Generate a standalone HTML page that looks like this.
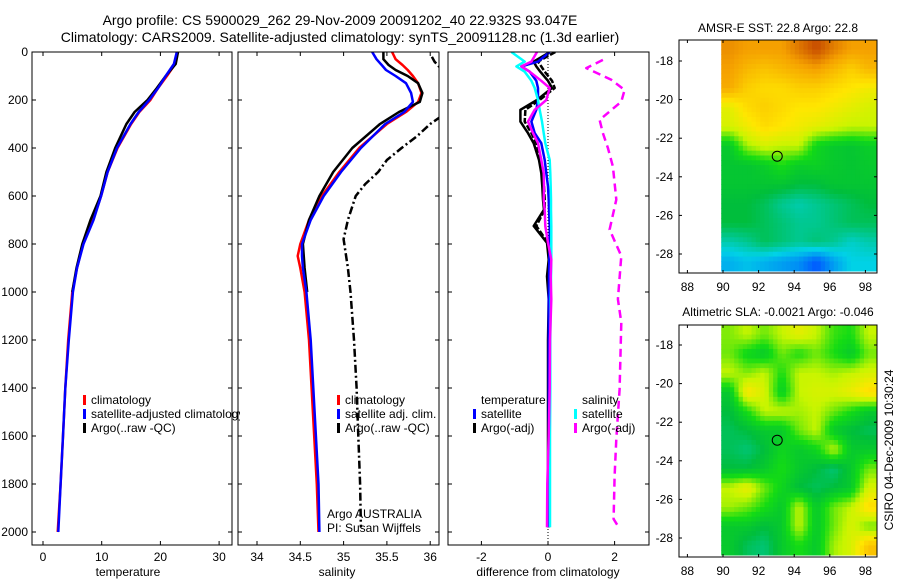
<!DOCTYPE html>
<html><head><meta charset="utf-8"><style>
html,body{margin:0;padding:0;background:#fff;}
svg{display:block;font-family:"Liberation Sans",sans-serif;}
text{font-size:12px;fill:#000;}
</style></head><body>
<svg id="chart" width="900" height="580" viewBox="0 0 900 580" xmlns="http://www.w3.org/2000/svg">
<text x="340" y="25" text-anchor="middle" style="font-size:14px">Argo profile: CS 5900029_262 29-Nov-2009 20091202_40 22.932S 93.047E</text>
<text x="340" y="42" text-anchor="middle" style="font-size:14px">Climatology: CARS2009. Satellite-adjusted climatology: synTS_20091128.nc (1.3d earlier)</text>
<text x="778" y="32" text-anchor="middle">AMSR-E SST: 22.8 Argo: 22.8</text>
<text x="778" y="316" text-anchor="middle">Altimetric SLA: -0.0021  Argo: -0.046</text>
<text transform="translate(893,450) rotate(-90)" text-anchor="middle">CSIRO 04-Dec-2009 10:30:24</text>
<g id="layer"></g>
</svg>
<script>
// ---- data ----
const tempDepth = [0,50,100,150,200,250,300,400,500,600,700,800,900,1000,1200,1400,1600,1800,2000];
const tempClim  = [22.9,22.5,21.1,19.6,18.3,16.4,15.0,12.7,11.0,9.9,8.5,6.8,5.8,5.0,4.3,3.8,3.4,3.0,2.5];
const tempSat   = [22.8,22.3,20.9,19.6,18.1,16.3,14.9,12.6,11.0,9.9,8.6,6.9,5.8,5.1,4.4,3.8,3.4,3.0,2.6];
const tempArgoDepth = [0,50,100,150,200,250,300,400,500,600,700,800,900,1000];
const tempArgo  = [23.0,22.6,20.9,19.4,17.8,15.6,14.2,12.3,10.8,9.8,8.1,6.7,5.7,5.0];

const salDepth = [0,30,54,75,100,130,171,208,250,300,400,500,600,700,800,850,900,1000,1200,1400,1600,1800,2000];
const salClim  = [35.56,35.6,35.68,35.74,35.8,35.86,35.9,35.86,35.72,35.5,35.18,34.95,34.75,34.6,34.5,34.47,34.5,34.55,34.6,34.63,34.66,34.69,34.71];
const salSat   = [35.33,35.38,35.44,35.49,35.6,35.72,35.78,35.8,35.7,35.48,35.2,34.97,34.77,34.62,34.52,34.52,34.53,34.57,34.62,34.65,34.68,34.71,34.72];
const salArgoDepth = [0,30,54,75,100,130,171,208,250,300,400,500,600,700,800,900,1000];
const salArgo  = [35.46,35.46,35.52,35.6,35.74,35.86,35.91,35.88,35.64,35.42,35.1,34.88,34.72,34.6,34.53,34.55,34.58];
const salRawDepth = [20,40,60,80,270,300,350,400,450,500,550,600,700,780,900,1000,1200,1400,1600,1800,1980];
const salRaw   = [36.02,36.05,36.1,36.15,36.12,36.0,35.85,35.67,35.5,35.4,35.25,35.14,35.05,35.0,35.05,35.08,35.12,35.15,35.17,35.19,35.2];

const diffDepth = [0,40,60,82,120,150,200,241,290,338,380,450,505,560,615,657,725,795,865,935,1030,1200,1400,1600,1800,1980];
const diffTempSat = [0.05,-0.3,-0.8,-0.55,-0.35,-0.3,-0.3,-0.35,-0.5,-0.4,-0.2,-0.1,-0.05,0,0.02,0.03,0.05,0.05,0.04,0.03,0.02,0.02,0.02,0.02,0.02,0.02];
const diffSalSat  = [-1.1,-0.7,-0.95,-0.7,-0.5,-0.4,-0.3,-0.25,-0.18,-0.13,-0.08,0.05,0.07,0.08,0.09,0.09,0.1,0.1,0.1,0.09,0.08,0.07,0.07,0.06,0.06,0.06];
const diffSalArgo = [-0.33,-0.5,-0.8,-0.55,-0.2,0.05,-0.05,-0.4,-0.6,-0.45,-0.3,-0.2,-0.13,-0.12,-0.13,-0.1,-0.08,0.0,0.1,0.08,0.1,0.06,0.05,0.02,-0.02,-0.03];
const diffTempArgo = [0.06,-0.43,-0.35,-0.23,0.0,0.12,-0.33,-0.83,-0.83,-0.6,-0.43,-0.27,-0.2,-0.17,-0.15,-0.12,-0.43,-0.03,0.02,-0.03,0.02,0.0,0.0,0.0,0.0,0.0];
const diffTempArgoB = [0.22,-0.3,-0.2,-0.1,0.12,0.2,-0.25,-0.68,-0.7,-0.5,-0.35,-0.2,-0.15,-0.12,-0.1,-0.1,-0.35,0.0,0.05,0.0,0.04,0.02,0.02,0.04,0.02,0.03];
const diffSalRawDepth = [33,67,116,158,207,283,338,400,477,615,740,850,1030,1127,1405,1613,1767,1946,1975];
const diffSalRaw = [1.65,1.15,1.9,2.3,2.2,1.55,1.65,1.8,1.95,2.05,1.85,2.2,2.1,2.2,2.15,2.05,2.0,1.97,2.1];

const depthTicks = [0,200,400,600,800,1000,1200,1400,1600,1800,2000];
const tempTicks = [0,10,20,30];
const salTicks = [34,34.5,35,35.5,36];
const diffTicks = [-2,0,2];
const lonTicks = [88,90,92,94,96,98];
const latTicks = [-18,-20,-22,-24,-26,-28];

// map grids: rows from lat -17 (top) to -29, 9 cols lon 89.9..98.5 (colormap index 0..1)
const sstGrid = [
[.82,.80,.80,.80,.85,.90,.84,.80,.80],
[.80,.76,.74,.76,.78,.80,.76,.72,.76],
[.78,.72,.70,.70,.72,.72,.70,.68,.66],
[.64,.70,.72,.70,.68,.68,.66,.64,.62],
[.62,.66,.70,.68,.66,.64,.62,.60,.60],
[.45,.58,.62,.60,.60,.48,.45,.44,.46],
[.44,.44,.46,.50,.46,.47,.45,.44,.45],
[.44,.44,.44,.44,.42,.42,.44,.44,.44],
[.42,.42,.40,.36,.34,.36,.38,.40,.42],
[.42,.42,.40,.38,.36,.36,.38,.40,.40],
[.34,.36,.40,.38,.36,.38,.36,.32,.34],
[.26,.28,.26,.24,.22,.16,.24,.30,.30]];
const slaGrid = [
[.56,.60,.55,.60,.64,.60,.52,.50,.60],
[.55,.48,.45,.55,.50,.55,.50,.45,.55],
[.60,.56,.60,.50,.60,.60,.58,.60,.62],
[.45,.68,.62,.46,.60,.62,.62,.65,.70],
[.42,.50,.60,.60,.58,.60,.55,.50,.45],
[.40,.42,.45,.45,.55,.60,.45,.42,.40],
[.40,.38,.42,.48,.45,.48,.60,.45,.45],
[.42,.42,.45,.50,.45,.42,.38,.45,.55],
[.60,.65,.55,.48,.42,.40,.42,.45,.62],
[.58,.55,.50,.45,.60,.45,.55,.60,.70],
[.45,.45,.42,.45,.60,.45,.55,.62,.55],
[.45,.40,.38,.45,.50,.45,.58,.62,.74]];

// ---- drawing ----
const NS='http://www.w3.org/2000/svg';
const layer=document.getElementById('layer');
function mk(tag,attrs,parent){const e=document.createElementNS(NS,tag);for(const k in attrs)e.setAttribute(k,attrs[k]);(parent||layer).appendChild(e);return e;}
const Y=d=>52+d*0.24;
const panels=[
 {x0:32,x1:232,sx:v=>43+v*5.87,ticks:tempTicks,label:'temperature',lx:128,name:'temperature-panel'},
 {x0:238,x1:439,sx:v=>257+(v-34)*86.6,ticks:salTicks,label:'salinity',lx:337,name:'salinity-panel'},
 {x0:448,x1:649,sx:v=>548+v*33.3,ticks:diffTicks,label:'difference from climatology',lx:548,name:'difference-panel'}];
panels.forEach((p,i)=>{
 const g=mk('g',{});
 
 
 const cp=mk('clipPath',{id:'cp'+i},g);mk('rect',{x:p.x0,y:52,width:p.x1-p.x0,height:493},cp);
 p.g=mk('g',{'clip-path':'url(#cp'+i+')'},g);
 const fr=mk('rect',{x:p.x0,y:52,width:p.x1-p.x0,height:493,fill:'none',stroke:'#000','stroke-width':1},g);
 
 
 p.ticks.forEach(t=>{const x=p.sx(t);
  mk('line',{x1:x,x2:x,y1:545,y2:541,stroke:'#000'},g);mk('line',{x1:x,x2:x,y1:52,y2:56,stroke:'#000'},g);
  const tx=mk('text',{x:x,y:561,'text-anchor':'middle'},g);tx.textContent=String(t);
  
  });
 depthTicks.forEach(d=>{const y=Y(d);mk('line',{x1:p.x0,x2:p.x0+4,y1:y,y2:y,stroke:'#000'},g);mk('line',{x1:p.x1,x2:p.x1-4,y1:y,y2:y,stroke:'#000'},g);
  if(i===0){const tx=mk('text',{x:28,y:y+4,'text-anchor':'end'},g);tx.textContent=String(d);
  
  }});
 const xl=mk('text',{x:p.lx,y:576,'text-anchor':'middle'},g);xl.textContent=p.label;
 
 
});
function line(p,xs,ds,color,w,dash,name){
 const pts=xs.map((v,k)=>p.sx(v).toFixed(1)+','+Y(ds[k]).toFixed(1)).join(' ');
 const e=mk('polyline',{points:pts,fill:'none',stroke:color,'stroke-width':w,'stroke-dasharray':dash||'none','stroke-linejoin':'round'},p.g);
 
 
}
const P=panels;
line(P[0],tempClim,tempDepth,'#f00',2.5,null,'temp-climatology-line');
line(P[0],tempArgo,tempArgoDepth,'#000',2.5,null,'temp-argo-line');
line(P[0],tempSat,tempDepth,'#00f',2.5,null,'temp-satellite-line');
line(P[1],salRaw,salRawDepth,'#000',2.5,'8,3,2,3','salinity-argo-raw-line');
line(P[1],salClim,salDepth,'#f00',2.5,null,'salinity-climatology-line');
line(P[1],salArgo,salArgoDepth,'#000',2.5,null,'salinity-argo-line');
line(P[1],salSat,salDepth,'#00f',2.5,null,'salinity-satellite-line');
mk('line',{x1:P[2].sx(0),x2:P[2].sx(0),y1:52,y2:545,stroke:'#000','stroke-dasharray':'1,2'},P[2].g);
line(P[2],diffSalRaw,diffSalRawDepth,'#f0f',2.5,'8,5','diff-salinity-argo-raw-line');
line(P[2],diffTempArgoB,diffDepth,'#000',2.5,'6,2','diff-temp-argo-adj-line');
line(P[2],diffTempArgo,diffDepth,'#000',2.5,null,'diff-temp-argo-line');
line(P[2],diffTempSat,diffDepth,'#00f',2.5,null,'diff-temp-satellite-line');
line(P[2],diffSalSat,diffDepth,'#0ff',2.5,null,'diff-salinity-satellite-line');
line(P[2],diffSalArgo,diffDepth,'#f0f',2.5,null,'diff-salinity-argo-line');

function legend(x,y,items,name){
 const g=mk('g',{});
 
 
 items.forEach((it,k)=>{const yy=y+k*14;
  if(it[0])mk('rect',{x:x,y:yy-9,width:3,height:10,fill:it[0]},g);
  const t=mk('text',{x:x+8,y:yy},g);t.textContent=it[1];
  
  });
 return g;
}
const cpL=mk('clipPath',{id:'cpl'});mk('rect',{x:32,y:52,width:208,height:493},cpL);
legend(83,404,[['#f00','climatology'],['#00f','satellite-adjusted climatology'],['#000','Argo(..raw -QC)']],'temperature-legend').setAttribute('clip-path','url(#cpl)');
legend(337,404,[['#f00','climatology'],['#00f','satellite adj. clim.'],['#000','Argo(..raw -QC)']],'salinity-legend');
const pi=mk('g',{});


mk('text',{x:327,y:518},pi).textContent='Argo AUSTRALIA';
mk('text',{x:327,y:532},pi).textContent='PI: Susan Wijffels';
legend(473,404,[[null,'temperature'],['#00f','satellite'],['#000','Argo(-adj)']],'diff-temperature-legend');
legend(574,404,[[null,'salinity'],['#0ff','satellite'],['#f0f','Argo(-adj)']],'diff-salinity-legend');

// colormap
const cmap=[[0,[0,0,200]],[0.16,[0,90,255]],[0.3,[0,210,230]],[0.42,[0,190,60]],[0.5,[20,220,20]],[0.6,[200,245,0]],[0.68,[255,230,0]],[0.8,[245,160,0]],[0.92,[190,60,0]],[1,[140,0,0]]];
function col(v){for(let i=1;i<cmap.length;i++){if(v<=cmap[i][0]){const a=cmap[i-1],b=cmap[i],t=(v-a[0])/(b[0]-a[0]);return 'rgb('+a[1].map((c,j)=>Math.round(c+(b[1][j]-c)*t)).join(',')+')';}}return 'rgb(140,0,0)';}
function sample(grid,fy,fx){ // bilinear on cell centers
 const R=grid.length,C=grid[0].length;
 let y=Math.max(0,Math.min(R-1,fy-0.5)),x=Math.max(0,Math.min(C-1,fx-0.5));
 const y0=Math.floor(y),x0=Math.floor(x),y1=Math.min(R-1,y0+1),x1=Math.min(C-1,x0+1),ty=y-y0,tx=x-x0;
 return (grid[y0][x0]*(1-tx)+grid[y0][x1]*tx)*(1-ty)+(grid[y1][x0]*(1-tx)+grid[y1][x1]*tx)*ty;
}
function map(top,bottom,grid,name,lat0y){
 const left=679,right=877;
 const lx=lon=>723+(lon-90)*17.8;
 const ly=lat=>lat0y+(-18-lat)*19.3;
 const g=mk('g',{});
 
 
 const rows=grid.length,cols=grid[0].length,S=4;
 const gx0=lx(89.9),gx1=right,gy0=top,gy1=bottom-2;
 const cw=(gx1-gx0)/(cols*S),ch=(gy1-gy0)/(rows*S);
 for(let i=0;i<rows*S;i++)for(let j=0;j<cols*S;j++){
  const v=sample(grid,(i+0.5)/S,(j+0.5)/S);
  const c=mk('rect',{x:(gx0+j*cw).toFixed(2),y:(gy0+i*ch).toFixed(2),width:(cw+0.5).toFixed(2),height:(ch+0.5).toFixed(2),fill:col(v)},g);
  
  
 }
 const fr=mk('rect',{x:left,y:top,width:right-left,height:bottom-top,fill:'none',stroke:'#000'},g);
 
 
 lonTicks.forEach(l=>{const x=lx(l);mk('line',{x1:x,x2:x,y1:bottom,y2:bottom-3,stroke:'#000'},g);mk('line',{x1:x,x2:x,y1:top,y2:top+3,stroke:'#000'},g);
  const t=mk('text',{x:x,y:bottom+18,'text-anchor':'middle'},g);t.textContent=String(l);
  
  });
 latTicks.forEach(l=>{const y=ly(l);mk('line',{x1:left,x2:left+3,y1:y,y2:y,stroke:'#000'},g);mk('line',{x1:right,x2:right-3,y1:y,y2:y,stroke:'#000'},g);
  const t=mk('text',{x:673,y:y+4,'text-anchor':'end'},g);t.textContent=String(l);
  
  });
 const m=mk('circle',{cx:lx(93.047),cy:ly(-22.932),r:5,fill:'none',stroke:'#000'},g);
 
 
}
map(40,273,sstGrid,'sst-map',61);
map(325,557,slaGrid,'sla-map',345);
</script>
</body></html>
